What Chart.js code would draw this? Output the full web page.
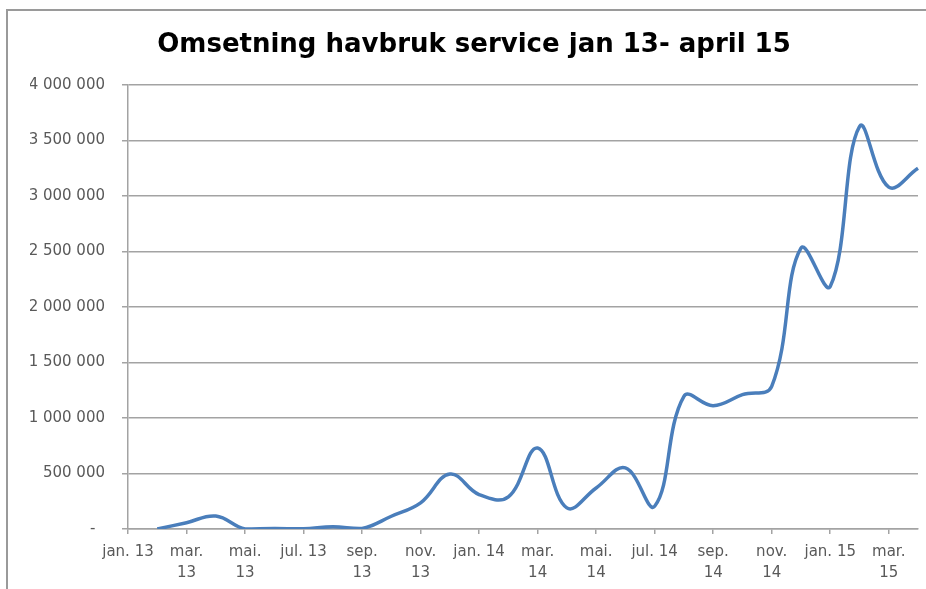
<!DOCTYPE html>
<html>
<head>
<meta charset="utf-8">
<script src="https://cdn.jsdelivr.net/npm/chart.js@4"></script>
<style>
  html, body { margin: 0; padding: 0; background: #fff; overflow: hidden; }
</style>
</head>
<body>
<canvas id="myChart" width="926" height="589"></canvas>
<script>
// monthly turnover, jan 13 - april 15
const months = ['jan. 13', 'feb. 13', 'mar. 13', 'apr. 13', 'mai. 13', 'jun. 13', 'jul. 13', 'aug. 13',
  'sep. 13', 'okt. 13', 'nov. 13', 'des. 13', 'jan. 14', 'feb. 14', 'mar. 14', 'apr. 14', 'mai. 14',
  'jun. 14', 'jul. 14', 'aug. 14', 'sep. 14', 'okt. 14', 'nov. 14', 'des. 14', 'jan. 15', 'feb. 15',
  'mar. 15', 'apr. 15']

const omsetning = [null, 0, 57000, 117000, 0, 5000, 2000, 20000,
  5000, 115000, 236000, 495000, 310000, 290000, 730000, 190000, 370000,
  550000, 205000, 1195000, 1111000, 1210000, 1285000, 2530000, 2185000, 3625000,
  3080000, 3250000]

// every second month gets a label, wrapped like in the original
const xTickLabels = [['jan. 13'], ['mar.', '13'], ['mai.', '13'], ['jul. 13'], ['sep.', '13'], ['nov.', '13'],
  ['jan. 14'], ['mar.', '14'], ['mai.', '14'], ['jul. 14'], ['sep.', '14'], ['nov.', '14'],
  ['jan. 15'], ['mar.', '15']]

const yMax = 4000000
const yStep = 500000

const gridGrey = '#a3a3a3'
const tickFont = { family: 'DejaVu Sans', size: 15 }

function spaced(v) {
    if (v === 0) return '-  '
    return v.toString().replace(/\B(?=(\d{3})+(?!\d))/g, ' ')
}

// white background plus the chart frame (left and top edge only, the rest is cut off)
const framePlugin = {
    id: 'frame',
    beforeDraw(chart) {
        const c = chart.ctx
        c.save()
        c.fillStyle = '#fff'
        c.fillRect(0, 0, chart.width, chart.height)
        c.strokeStyle = '#9a9a9a'
        c.lineWidth = 2
        c.beginPath()
        c.moveTo(7, chart.height)
        c.lineTo(7, 10)
        c.lineTo(chart.width, 10)
        c.stroke()
        c.restore()
    }
}

const ctx = document.getElementById('myChart')

new Chart(ctx, {
    type: 'line',
    data: {
        labels: months,
        datasets: [{
            label: 'Omsetning',
            data: omsetning,
            borderColor: '#4a7ebb',
            borderWidth: 3.5,
            pointRadius: 0,
            tension: 0.4,
            fill: false
        }]
    },
    options: {
        responsive: false,
        animation: false,
        layout: { padding: { left: 30, right: 8, top: 0, bottom: 0 } },
        plugins: {
            legend: { display: false },
            tooltip: { enabled: false },
            title: {
                display: true,
                text: 'Omsetning havbruk service jan 13- april 15',
                color: '#000',
                font: { family: 'DejaVu Sans', size: 26, weight: 'bold', lineHeight: 1.2 },
                padding: { top: 29.4, bottom: 24.4 }
            }
        },
        scales: {
            x: {
                offset: false,
                grid: {
                    drawOnChartArea: false,
                    drawTicks: true,
                    tickLength: 5,
                    color: gridGrey,
                    lineWidth: 1.5
                },
                border: { color: gridGrey, width: 1.5 },
                ticks: {
                    autoSkip: false,
                    maxRotation: 0,
                    minRotation: 0,
                    padding: 8,
                    color: '#595959',
                    font: { ...tickFont, lineHeight: 1.4 },
                    callback: (val, i) => (i % 2 === 0 ? xTickLabels[i / 2] : null)
                },
                afterFit: (s) => { s.height = 60 }
            },
            y: {
                min: 0,
                max: yMax,
                grid: {
                    color: gridGrey,
                    lineWidth: 1.5,
                    tickLength: 6
                },
                border: { color: gridGrey, width: 1.5 },
                ticks: {
                    stepSize: yStep,
                    padding: 17,
                    color: '#595959',
                    font: tickFont,
                    callback: (v) => spaced(v)
                },
                afterFit: (s) => { s.width = 98 }
            }
        }
    },
    plugins: [framePlugin]
})
</script>
</body>
</html>
